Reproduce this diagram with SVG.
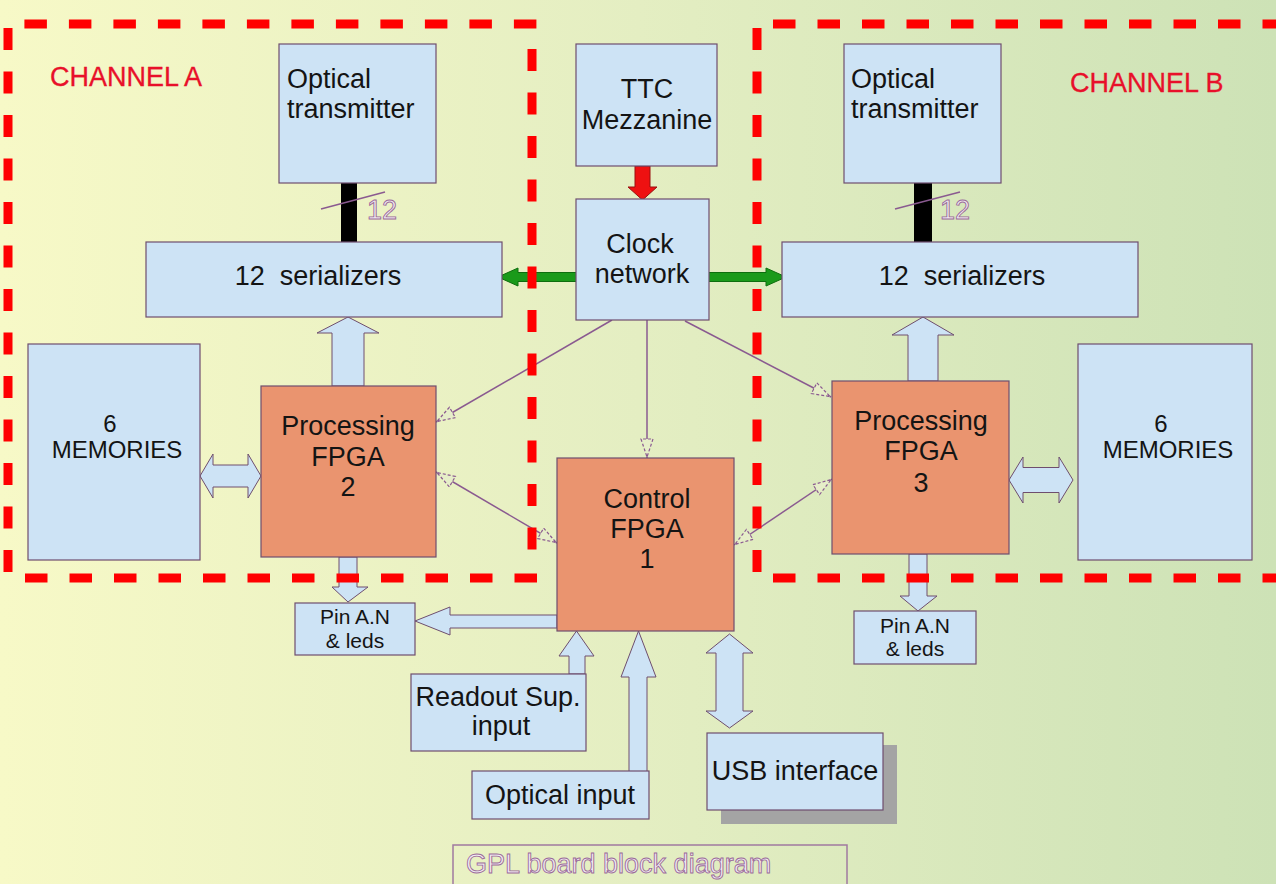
<svg xmlns="http://www.w3.org/2000/svg" width="1276" height="884" viewBox="0 0 1276 884">
<defs>
<linearGradient id="bg" x1="0" y1="0" x2="1" y2="0">
<stop offset="0" stop-color="#f7f9c7"/>
<stop offset="0.5" stop-color="#e4eec2"/>
<stop offset="1" stop-color="#cde2b6"/>
</linearGradient>
<marker id="oh" viewBox="0 0 20 14" refX="20" refY="7" markerWidth="20" markerHeight="14" markerUnits="userSpaceOnUse" orient="auto-start-reverse">
<path d="M1,1 L19,7 L1,13 Z" fill="#e6eec8" stroke="#8a5a90" stroke-width="1.2" stroke-dasharray="3 2"/>
</marker>
<style>
.bx{fill:#cde3f5;stroke:#6e4e6e;stroke-width:1.2}
.fp{fill:#ea946f;stroke:#6e4e6e;stroke-width:1.2}
.fa{fill:#cde3f5;stroke:#6e4e6e;stroke-width:1}
.t{font-family:"Liberation Sans",Arial,sans-serif;font-size:27px;fill:#141414}
.c{text-anchor:middle}
.m{font-size:24px}
.s{font-size:21px}
.ch{font-family:"Liberation Sans",Arial,sans-serif;font-size:27px;fill:#e8102a;stroke:#e8102a;stroke-width:0.3}
.hol{font-family:"Liberation Sans",Arial,sans-serif;font-size:27px;fill:#f2ecf2;stroke:#9a6a9a;stroke-width:0.9}
.ln{stroke:#8a5a90;stroke-width:1.5;fill:none}
.rd{stroke:#ff0000;stroke-width:9;fill:none}
.h{stroke-dasharray:22.5 22}
.v{stroke-dasharray:22 21.5}
</style>
</defs>
<rect x="0" y="0" width="1276" height="884" fill="url(#bg)"/>

<g id="connectors">
<polygon id="green-arrow" points="498,277 518,268 518,272.5 766,272.5 766,268 786,277 766,286 766,281.5 518,281.5 518,286" fill="#1a9a1a" stroke="#0e6e0e" stroke-width="1"/>
<polygon id="red-arrow" points="635,166 650,166 650,187 657,187 642.5,200 628,187 635,187" fill="#ee1111" stroke="#991111" stroke-width="1"/>
<line class="ln" x1="612" y1="320" x2="436" y2="422" marker-end="url(#oh)"/>
<line class="ln" x1="647" y1="320" x2="647" y2="458" marker-end="url(#oh)"/>
<line class="ln" x1="685" y1="321" x2="831" y2="397" marker-end="url(#oh)"/>
<line class="ln" x1="436" y1="472" x2="557" y2="543" marker-start="url(#oh)" marker-end="url(#oh)"/>
<line class="ln" x1="734" y1="545" x2="832" y2="479" marker-start="url(#oh)" marker-end="url(#oh)"/>
<polygon class="fa" points="348,317 379,333 364,333 364,386 332,386 332,333 317,333"/>
<polygon class="fa" points="923,317 954,335 938,335 938,381 908,381 908,335 892,335"/>
<polygon class="fa" points="200,476 213,454 213,465 248,465 248,454 261,476 248,498 248,487 213,487 213,498"/>
<polygon class="fa" points="1009,480 1023,457 1023,467.5 1059,467.5 1059,457 1073,480 1059,503 1059,492.5 1023,492.5 1023,503"/>
<polygon class="fa" points="339,557 357,557 357,587 368,587 348,602 332,587 339,587"/>
<polygon class="fa" points="909,554 927,554 927,596 937,596 918,611 900,596 909,596"/>
<polygon class="fa" points="557,615 557,628 450,628 450,635 415,621 450,607 450,615"/>
<polygon class="fa" points="569,674 569,656 559,656 576.5,631 594,656 585,656 585,674"/>
<polygon class="fa" points="629,772 629,677 621,677 638.5,631 656,677 647,677 647,772"/>
<polygon class="fa" points="729.5,634 753,653 743,653 743,711 753,711 729.5,728 706,711 716,711 716,653 706,653"/>
<line x1="341" y1="183" x2="357" y2="183" stroke="none"/>
<rect x="341" y="183" width="16" height="59" fill="#000"/>
<rect x="914" y="183" width="18" height="59" fill="#000"/>
<line class="ln" x1="321" y1="209" x2="385" y2="192" stroke-width="1.2"/>
<line class="ln" x1="895" y1="209" x2="960" y2="192" stroke-width="1.2"/>
<text class="hol" x="367" y="219">12</text>
<text class="hol" x="940" y="219">12</text>
</g>

<g id="ttc"><rect class="bx" x="576" y="44" width="141" height="122"/>
<text class="t c" x="647" y="98">TTC</text><text class="t c" x="647" y="129">Mezzanine</text></g>
<g id="clock"><rect class="bx" x="576" y="199" width="133" height="121"/>
<text class="t c" x="640" y="253">Clock</text><text class="t c" x="642" y="283">network</text></g>

<g id="optA"><rect class="bx" x="279" y="44" width="157" height="139"/>
<text class="t" x="287" y="88">Optical</text><text class="t" x="287" y="118">transmitter</text></g>
<g id="serA"><rect class="bx" x="146" y="242" width="356" height="75"/>
<text class="t c" x="318" y="285" xml:space="preserve">12  serializers</text></g>
<g id="memA"><rect class="bx" x="28" y="344" width="172" height="216"/>
<text class="t c m" x="110" y="432">6</text><text class="t c m" x="117" y="458">MEMORIES</text></g>
<g id="fpga2"><rect class="fp" x="261" y="386" width="175" height="171"/>
<text class="t c" x="348" y="435">Processing</text><text class="t c" x="348" y="466">FPGA</text><text class="t c" x="348" y="496">2</text></g>
<g id="pinA"><rect class="bx" x="295" y="603" width="120" height="52"/>
<text class="t c s" x="355" y="624">Pin A.N</text><text class="t c s" x="355" y="648">&amp; leds</text></g>

<g id="optB"><rect class="bx" x="844" y="44" width="157" height="139"/>
<text class="t" x="851" y="88">Optical</text><text class="t" x="851" y="118">transmitter</text></g>
<g id="serB"><rect class="bx" x="782" y="242" width="356" height="75"/>
<text class="t c" x="962" y="285" xml:space="preserve">12  serializers</text></g>
<g id="memB"><rect class="bx" x="1078" y="344" width="174" height="216"/>
<text class="t c m" x="1161" y="432">6</text><text class="t c m" x="1168" y="458">MEMORIES</text></g>
<g id="fpga3"><rect class="fp" x="832" y="381" width="177" height="173"/>
<text class="t c" x="921" y="430">Processing</text><text class="t c" x="921" y="460">FPGA</text><text class="t c" x="921" y="492">3</text></g>
<g id="pinB"><rect class="bx" x="854" y="611" width="122" height="53"/>
<text class="t c s" x="915" y="633">Pin A.N</text><text class="t c s" x="915" y="656">&amp; leds</text></g>

<g id="fpga1"><rect class="fp" x="557" y="458" width="177" height="173"/>
<text class="t c" x="647" y="508">Control</text><text class="t c" x="647" y="538">FPGA</text><text class="t c" x="647" y="568">1</text></g>
<g id="readout"><rect class="bx" x="411" y="674" width="175" height="77"/>
<text class="t c" x="498" y="706">Readout Sup.</text><text class="t c" x="501" y="735">input</text></g>
<g id="optin"><rect class="bx" x="472" y="771" width="177" height="48"/>
<text class="t c" x="560" y="804">Optical input</text></g>
<g id="usb"><rect x="721" y="745" width="176" height="79" fill="#a4a4a4"/>
<rect class="bx" x="707" y="733" width="176" height="77"/>
<text class="t c" x="795" y="780">USB interface</text></g>

<g id="channelA">
<line class="rd h" x1="24.4" y1="24" x2="540" y2="24"/>
<line class="rd v" x1="8" y1="28" x2="8" y2="572"/>
<line class="rd v" x1="532" y1="49" x2="532" y2="556"/>
<line class="rd h" x1="25" y1="578" x2="540" y2="578"/>
<text class="ch" x="50" y="86">CHANNEL A</text>
</g>
<g id="channelB">
<line class="rd h" x1="773" y1="24" x2="1276" y2="24"/>
<line class="rd v" x1="757" y1="28" x2="757" y2="572"/>
<line class="rd h" x1="773" y1="578" x2="1276" y2="578"/>
<text class="ch" x="1070" y="92">CHANNEL B</text>
</g>

<g id="caption">
<rect x="453" y="845" width="394" height="50" fill="none" stroke="#a07aa0" stroke-width="1.5"/>
<text class="hol" x="466" y="873">GPL board block diagram</text>
</g>
</svg>
